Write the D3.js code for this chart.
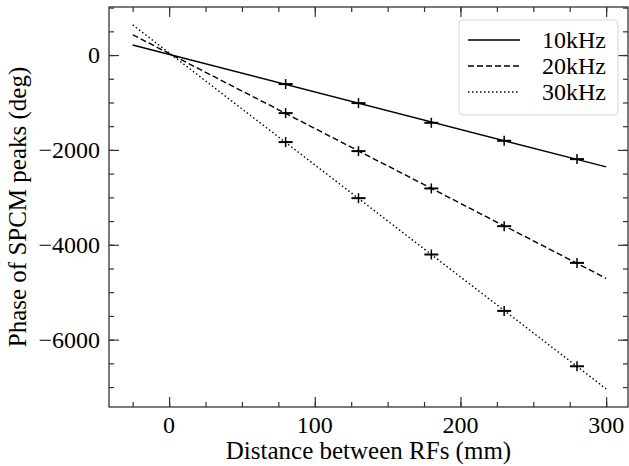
<!DOCTYPE html>
<html>
<head>
<meta charset="utf-8">
<script src="https://d3js.org/d3.v7.min.js"></script>
</head>
<body style="margin:0">
<script>
const width = 629;
const height = 466;
const margin = {top:7, left:109, bottom:59, right:1};
const plotWidth = width - (margin.left+margin.right);
const plotHeight = height - (margin.top+margin.bottom);
const fontName = '"Liberation Serif", monospace';

// data
const labels = ['10kHz', '20kHz', '30kHz'];
const dashes = ['none', '6,3', '1.5,2.5'];
const distances = [80, 130, 180, 230, 280];
const phase10 = [-612, -1013, -1428, -1808, -2194];
const phase20 = [-1224, -2025, -2812, -3608, -4382];
const phase30 = [-1835, -3017, -4205, -5394, -6561];
const fitX = [-25, 300];
const fit10 = [211, -2359];
const fit20 = [428, -4707];
const fit30 = [636, -7038];
const xTicks = [0, 100, 200, 300];
const yTicks = [-6000, -4000, -2000, 0];
const xMinor = d3.range(-25, 301, 25);
const yMinor = d3.range(-7000, 1001, 500);

const series = [
  {name:labels[0], dash:dashes[0], pts:phase10, fit:fit10},
  {name:labels[1], dash:dashes[1], pts:phase20, fit:fit20},
  {name:labels[2], dash:dashes[2], pts:phase30, fit:fit30}
];

const x = d3.scaleLinear().domain([-41.25, 315]).range([0, plotWidth]);
const y = d3.scaleLinear().domain([-7420, 1013]).range([plotHeight, 0]);

const svg = d3.select('body').append('svg')
  .attr('width', width)
  .attr('height', height);

const g = svg.append('g')
  .attr('transform', `translate(${margin.left},${margin.top})`);

const tickCol = '#333';

// tick marks, inward on every side
function tickMarks(axis, ty, major, minor){
  const ga = g.append('g').attr('transform', ty);
  ga.call(axis.tickValues(minor).tickSize(-5).tickFormat(''));
  const gb = g.append('g').attr('transform', ty);
  gb.call(axis.tickValues(major).tickSize(-10).tickFormat(''));
  [ga, gb].forEach(s => {
    s.select('.domain').remove();
    s.selectAll('text').remove();
    s.selectAll('line').attr('stroke', tickCol).attr('stroke-width', 1.2);
  });
}
tickMarks(d3.axisBottom(x), `translate(0,${plotHeight})`, xTicks, xMinor);
tickMarks(d3.axisTop(x), 'translate(0,0)', xTicks, xMinor);
tickMarks(d3.axisLeft(y), 'translate(0,0)', yTicks, yMinor);
tickMarks(d3.axisRight(y), `translate(${plotWidth},0)`, yTicks, yMinor);

// tick labels as plain text
const fmt = d3.format('d');
svg.selectAll('.xlab')
  .data(xTicks)
  .enter().append('text')
    .attr('class', 'xlab')
    .attr('x', d => margin.left + x(d))
    .attr('y', margin.top + plotHeight + 26)
    .attr('text-anchor', 'middle')
    .attr('font-size', 24)
    .style('font-family', fontName)
    .text(fmt);
svg.selectAll('.ylab')
  .data(yTicks)
  .enter().append('text')
    .attr('class', 'ylab')
    .attr('x', margin.left - 9)
    .attr('y', d => margin.top + y(d) + 8)
    .attr('text-anchor', 'end')
    .attr('font-size', 24)
    .style('font-family', fontName)
    .text(fmt);

g.append('rect')
  .attr('width', plotWidth)
  .attr('height', plotHeight)
  .attr('fill', 'none')
  .attr('stroke', tickCol)
  .attr('stroke-width', 1.3);

// fit lines
const line = d3.line()
  .x((d, i) => x(fitX[i]))
  .y(d => y(d));

g.selectAll('.fit')
  .data(series)
  .enter().append('path')
    .attr('class', 'fit')
    .attr('d', d => line(d.fit))
    .attr('fill', 'none')
    .attr('stroke', '#000')
    .attr('stroke-width', 1.4)
    .attr('stroke-dasharray', d => d.dash);

// + markers
series.forEach(s => {
  const m = g.append('g').selectAll('g')
    .data(s.pts)
    .enter().append('g')
      .attr('transform', (d, i) => `translate(${x(distances[i])},${y(d)})`);
  m.append('line').attr('x1', -7).attr('x2', 7)
    .attr('stroke', '#000').attr('stroke-width', 2);
  m.append('line').attr('y1', -5).attr('y2', 5)
    .attr('stroke', '#000').attr('stroke-width', 1.5);
});

// legend
const leg = svg.append('g').attr('transform', 'translate(459,20)');
leg.append('rect')
  .attr('width', 159)
  .attr('height', 95)
  .attr('rx', 4)
  .attr('fill', '#fff')
  .attr('fill-opacity', 0.8)
  .attr('stroke', '#d6d6d6')
  .attr('stroke-width', 1);
series.forEach((s, i) => {
  const yy = 20 + i * 26;
  leg.append('line')
    .attr('x1', 9).attr('x2', 61)
    .attr('y1', yy).attr('y2', yy)
    .attr('stroke', '#000')
    .attr('stroke-width', 1.4)
    .attr('stroke-dasharray', s.dash);
  leg.append('text')
    .attr('x', 83).attr('y', yy + 8)
    .attr('font-size', 24)
    .style('font-family', fontName)
    .text(s.name);
});

// axis titles
svg.append('text')
  .attr('x', margin.left + plotWidth / 2)
  .attr('y', 459)
  .attr('text-anchor', 'middle')
  .attr('font-size', 25)
  .style('font-family', fontName)
  .text('Distance between RFs (mm)');

svg.append('text')
  .attr('transform', `translate(26,${margin.top + plotHeight / 2}) rotate(-90)`)
  .attr('text-anchor', 'middle')
  .attr('font-size', 25)
  .style('font-family', fontName)
  .text('Phase of SPCM peaks (deg)');
</script>
</body>
</html>
